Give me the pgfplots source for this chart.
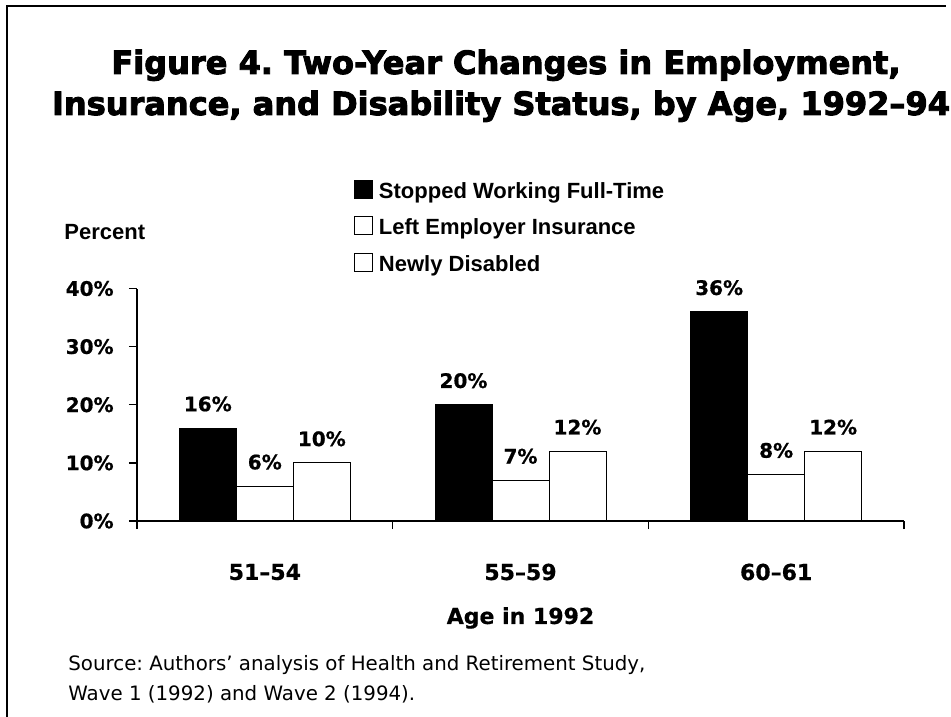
\documentclass[border=0pt]{standalone}
\usepackage{fontspec}
\usepackage{pgfplots}
\pgfplotsset{compat=1.18}
\setmainfont{DejaVu Sans}
\newfontfamily\lib{Liberation Sans}
\newfontfamily\heavyfont{DejaVu Sans Bold}[FakeBold=3]
\newfontfamily\dvb{DejaVu Sans Bold}[FakeBold=0.7]
\newcommand\titlefont{\heavyfont\fontsize{16}{19}\selectfont}
\newcommand\tickfont{\dvb\fontsize{10}{12}\selectfont}
\newcommand\catfont{\dvb\fontsize{11}{13}\selectfont}
\newcommand\legfont{\lib\bfseries\fontsize{11}{13}\selectfont}
\newcommand\srcfont{\fontsize{9.9}{12}\selectfont}
\frenchspacing
\begin{document}
\begin{tikzpicture}
\begin{axis}[
  scale only axis, width=383.5pt, height=116.25pt,
  at={(0,0)}, anchor=south west,
  ybar=0pt, bar width=28.5pt,
  xmin=-0.5, xmax=2.5, ymin=0, ymax=40,
  axis x line=bottom, axis y line=left,
  axis line style={-, line width=0.7pt, black},
  tick style={line width=0.7pt, black},
  tick align=outside, major tick length=4pt,
  axis on top,
  xtick={-0.5,0.5,1.5,2.5}, xticklabels={,,,},
  extra x ticks={0,1,2},
  extra x tick labels={51–54,55–59,60–61},
  extra x tick style={major tick length=0pt, tick label style={font=\catfont, anchor=center, yshift=-25.5pt}},
  ytick={0,10,20,30,40},
  yticklabel={\pgfmathprintnumber{\tick}\%},
  yticklabel style={font=\tickfont, anchor=east, inner sep=0pt, xshift=-7.5pt},
  /pgf/number format/assume math mode=true,
  nodes near coords={\pgfmathprintnumber{\pgfplotspointmeta}\%},
  nodes near coords style={font=\tickfont, anchor=south, inner sep=0pt, yshift=8pt},
  clip=false,
  xlabel={Age in 1992},
  xlabel style={font=\catfont, at={(axis description cs:0.5,-0.417)}, anchor=center},
  ylabel={Percent},
  every axis y label/.style={at={(axis description cs:-0.0952,1.243)}, anchor=west, inner sep=0pt, font=\lib\bfseries\fontsize{11}{13}\selectfont},
  legend style={at={(0.2829,1.4667)}, anchor=north west, draw=none, fill=none, inner sep=0pt, outer sep=0pt, row sep=8.7pt, column sep=3pt, font=\legfont, nodes={inner sep=0pt, text height=8pt, text depth=0pt}},
  legend cell align=left,
  legend image code/.code={\draw[#1, line width=0.5pt] (0pt,-4.1pt) rectangle (9pt,4.9pt);},
]
\addplot[fill=black, draw=black, line width=0.5pt] coordinates {(0,16) (1,20) (2,36)};
\addplot[fill=white, draw=black, line width=0.5pt] coordinates {(0,6) (1,7) (2,8)};
\addplot[fill=white, draw=black, line width=0.5pt] coordinates {(0,10) (1,12) (2,12)};
\legend{Stopped Working Full-Time, Left Employer Insurance, Newly Disabled}
\end{axis}
\begin{scope}[x=0.5pt, y=-0.5pt, shift={(-68.5pt,260.5pt)}]
\draw[line width=1.3pt] (7,720) -- (7,6) -- (946,6);
\node[font=\titlefont, anchor=base] at (506,74) {Figure 4. Two-Year Changes in Employment,};
\node[font=\titlefont, anchor=base] at (501,115) {Insurance, and Disability Status, by Age, 1992–94};
\node[font=\srcfont, anchor=base west, inner sep=0pt] at (68,670) {Source: Authors' analysis of Health and Retirement Study,};
\node[font=\srcfont, anchor=base west, inner sep=0pt] at (68,700) {Wave 1 (1992) and Wave 2 (1994).};
\pgfresetboundingbox
\useasboundingbox (0,0) rectangle (951,716);
\end{scope}
\end{tikzpicture}
\end{document}
